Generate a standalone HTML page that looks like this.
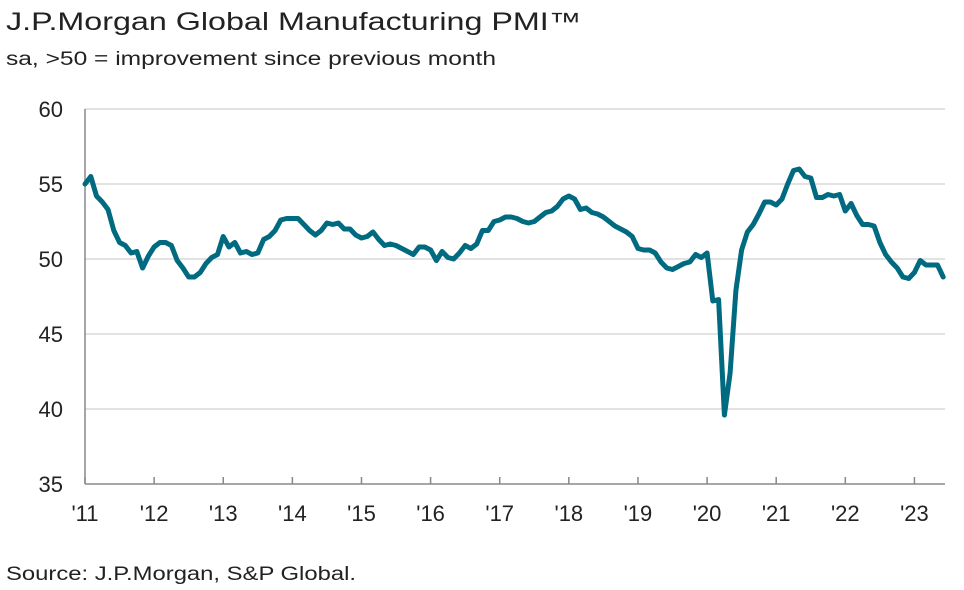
<!DOCTYPE html>
<html><head><meta charset="utf-8"><style>
body{margin:0;background:#fff;font-family:"Liberation Sans",sans-serif;}
</style></head><body>
<svg width="964" height="585" xmlns="http://www.w3.org/2000/svg" font-family="Liberation Sans, sans-serif">
<text x="6" y="30" font-size="25" fill="#222" textLength="575" lengthAdjust="spacingAndGlyphs">J.P.Morgan Global Manufacturing PMI™</text>
<text x="6" y="65" font-size="19" fill="#222" textLength="490" lengthAdjust="spacingAndGlyphs">sa, &gt;50 = improvement since previous month</text>
<text x="6" y="580" font-size="19" fill="#222" textLength="350" lengthAdjust="spacingAndGlyphs">Source: J.P.Morgan, S&amp;P Global.</text>
<g id="grid"></g><g id="axes"></g><g id="line"></g>
</svg>
<script>
const years=["'11","'12","'13","'14","'15","'16","'17","'18","'19","'20","'21","'22","'23"];
const yTicks=[35,40,45,50,55,60];
const pmi=[55.0,55.5,54.2,53.8,53.3,51.9,51.1,50.9,50.4,50.5,49.4,50.2,
50.8,51.1,51.1,50.9,49.9,49.4,48.8,48.8,49.1,49.7,50.1,50.3,
51.5,50.8,51.1,50.4,50.5,50.3,50.4,51.3,51.5,51.9,52.6,52.7,
52.7,52.7,52.3,51.9,51.6,51.9,52.4,52.3,52.4,52.0,52.0,51.6,
51.4,51.5,51.8,51.3,50.9,51.0,50.9,50.7,50.5,50.3,50.8,50.8,
50.6,49.9,50.5,50.1,50.0,50.4,50.9,50.7,51.0,51.9,51.9,52.5,
52.6,52.8,52.8,52.7,52.5,52.4,52.5,52.8,53.1,53.2,53.5,54.0,
54.2,54.0,53.3,53.4,53.1,53.0,52.8,52.5,52.2,52.0,51.8,51.5,
50.7,50.6,50.6,50.4,49.8,49.4,49.3,49.5,49.7,49.8,50.3,50.1,
50.4,47.2,47.3,39.6,42.4,47.9,50.6,51.8,52.3,53.0,53.8,53.8,
53.6,54.0,55.0,55.9,56.0,55.5,55.4,54.1,54.1,54.3,54.2,54.3,
53.2,53.7,52.9,52.3,52.3,52.2,51.1,50.3,49.8,49.4,48.8,48.7,
49.1,49.9,49.6,49.6,49.6,48.8];
const ns="http://www.w3.org/2000/svg";
const x0=85,pxM=5.76,xr=945;
const X=i=>x0+i*pxM;
const Y=v=>484-(v-35)*15;
function mk(t,a,p){const e=document.createElementNS(ns,t);for(const k in a)e.setAttribute(k,a[k]);p.appendChild(e);return e;}
const grid=document.getElementById('grid'),axes=document.getElementById('axes'),line=document.getElementById('line');
yTicks.forEach(v=>{
 const l=mk('line',{x1:x0,x2:xr,y1:Y(v),y2:Y(v),stroke:v===35?'#888':'#d9d9d9','stroke-width':1.5},grid);
 
 
 const t=mk('text',{x:63,y:Y(v)+8,'font-size':22,fill:'#222','text-anchor':'end'},axes);
 t.textContent=v;
 
 
});
const ya=mk('line',{x1:x0,x2:x0,y1:Y(60),y2:Y(35),stroke:'#888','stroke-width':1.5},axes);


years.forEach((y,i)=>{
 const x=X(i*12);
 const tk=mk('line',{x1:x,x2:x,y1:484,y2:477,stroke:'#888','stroke-width':1.5},axes);
 
 
 const t=mk('text',{x:x,y:521,'font-size':22,fill:'#222','text-anchor':'middle'},axes);
 t.textContent=y;
 
 
});
const p=mk('polyline',{points:pmi.map((v,i)=>X(i).toFixed(1)+','+Y(v).toFixed(1)).join(' '),fill:'none',stroke:'#006a80','stroke-width':5,'stroke-linejoin':'round','stroke-linecap':'round'},line);


</script>
</body></html>
